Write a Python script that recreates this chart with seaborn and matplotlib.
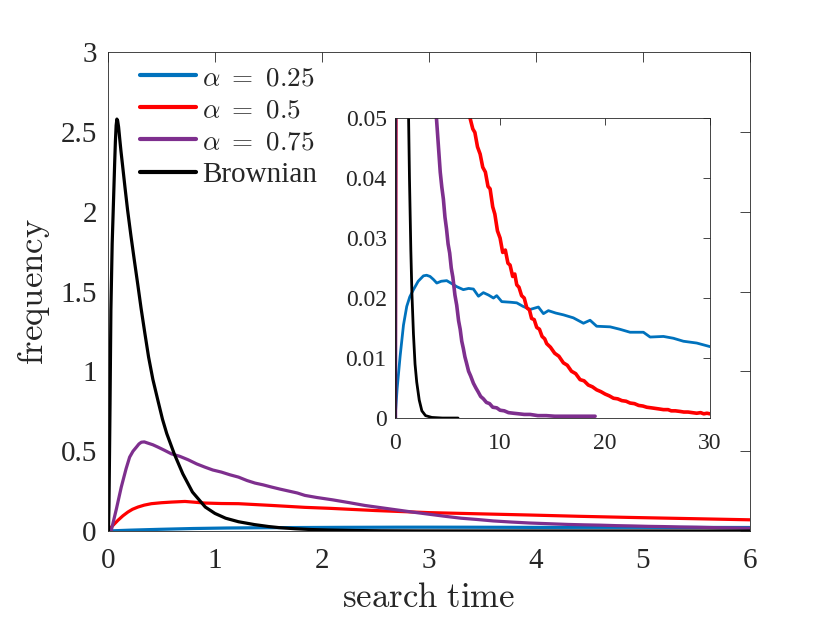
import numpy as np
import pandas as pd
import matplotlib
matplotlib.use('Agg')
import matplotlib.pyplot as plt
import seaborn as sns

# ── series (search time -> frequency)
t_brown = [0, 0.005, 0.01, 0.02, 0.028, 0.04, 0.053, 0.063, 0.07, 0.077, 0.084,
           0.091, 0.1, 0.11, 0.122, 0.137, 0.16, 0.184, 0.215, 0.246, 0.28, 0.31,
           0.345, 0.38, 0.42, 0.47, 0.51, 0.55, 0.62, 0.70, 0.79, 0.91, 1.0, 1.1,
           1.22, 1.37, 1.5, 1.6, 1.75, 1.9, 2.06, 2.3, 2.55, 2.9, 3.5, 4.5, 6.0]
f_brown = [0, 0.0, 0.15, 0.8, 1.385, 1.8, 2.08, 2.3, 2.44, 2.54, 2.58,
           2.57, 2.53, 2.46, 2.38, 2.29, 2.15, 2.01, 1.85, 1.70, 1.54, 1.395,
           1.24, 1.09, 0.95, 0.81, 0.70, 0.61, 0.483, 0.358, 0.244, 0.15, 0.11, 0.08,
           0.058, 0.04, 0.028, 0.021, 0.014, 0.009, 0.006, 0.003, 0.0012, 0.0004, 0.0001, 0.0, 0.0]

t_a075 = [0, 0.03, 0.08, 0.125, 0.17, 0.203, 0.235, 0.266, 0.29, 0.3125, 0.34,
          0.375, 0.42, 0.469, 0.53, 0.594, 0.67, 0.75, 0.83, 0.906, 0.98, 1.06,
          1.14, 1.22, 1.3, 1.375, 1.45, 1.53, 1.61, 1.69, 1.77, 1.84, 1.95, 2.1,
          2.25, 2.4, 2.55, 2.7, 2.85, 3.0, 3.15, 3.3, 3.45, 3.6, 3.77, 3.94, 4.1,
          4.3, 4.45, 4.6, 4.75, 4.9, 5.05, 5.2, 5.35, 5.5, 5.7, 5.87, 6.05, 6.2,
          6.35, 6.5, 6.65, 6.8, 7.0, 7.2, 7.46, 7.7, 7.9, 8.15, 8.41, 8.7, 9.0,
          9.3, 9.68, 10.0, 10.4, 10.8, 11.27, 11.8, 12.3, 12.86, 13.6, 14.4, 15.2,
          16.0, 17.5, 19.05]
f_a075 = [0, 0.0, 0.14, 0.275, 0.39, 0.4625, 0.5, 0.525, 0.545, 0.556, 0.558,
          0.55, 0.54, 0.525, 0.505, 0.483, 0.468, 0.446, 0.42, 0.4, 0.382, 0.369,
          0.352, 0.3375, 0.316, 0.3, 0.289, 0.275, 0.262, 0.25, 0.238, 0.223, 0.21, 0.195,
          0.178, 0.16, 0.146, 0.132, 0.118, 0.105, 0.092, 0.08, 0.072, 0.063, 0.056, 0.05, 0.046,
          0.041, 0.0385, 0.0365, 0.0335, 0.0315, 0.029, 0.0275, 0.025, 0.0235, 0.0205, 0.0188, 0.0162, 0.0148,
          0.0128, 0.0116, 0.0102, 0.0092, 0.0078, 0.0070, 0.0058, 0.0050, 0.0044, 0.0036, 0.0032, 0.0026, 0.0024,
          0.0018, 0.0017, 0.0013, 0.0012, 0.0009, 0.0008, 0.0007, 0.0006, 0.0006, 0.0004, 0.0004, 0.0003,
          0.0003, 0.0003, 0.0003]

t_a05 = [0, 0.04, 0.094, 0.14, 0.1875, 0.23, 0.281, 0.34, 0.406, 0.5, 0.594, 0.72,
         0.906, 1.06, 1.22, 1.53, 1.84, 2.07, 2.5, 3.0, 3.5, 3.94, 4.4, 4.87, 5.4,
         6.0, 6.6, 7.14, 7.4, 7.6, 7.85, 8.1, 8.35, 8.6, 8.85, 9.05, 9.3, 9.5, 9.75,
         10.0, 10.25, 10.5, 10.75, 10.95, 11.2, 11.4, 11.59, 11.8, 12.05, 12.3,
         12.54, 12.8, 13.0, 13.25, 13.49, 13.75, 14.0, 14.25, 14.44, 14.8, 15.2,
         15.6, 16.03, 16.4, 16.8, 17.2, 17.62, 18.0, 18.4, 18.8, 19.2, 19.6, 20.0,
         20.4, 20.8, 21.2, 21.6, 22.0, 22.38, 22.8, 23.2, 23.6, 23.97, 24.4, 24.8,
         25.2, 25.56, 26.0, 26.3, 26.7, 27.14, 27.5, 27.9, 28.3, 28.73, 29.1, 29.4,
         29.7, 30.0]
f_a05 = [0, 0.03, 0.067, 0.095, 0.119, 0.136, 0.15, 0.162, 0.171, 0.177, 0.181, 0.185,
         0.175, 0.172, 0.171, 0.16, 0.148, 0.142, 0.128, 0.115, 0.107, 0.1, 0.092, 0.085, 0.078,
         0.07, 0.06, 0.05, 0.0482, 0.0476, 0.0452, 0.0440, 0.0418, 0.0410, 0.0386, 0.0382, 0.0352, 0.0340, 0.0312,
         0.0300, 0.0276, 0.0280, 0.0258, 0.0255, 0.0236, 0.0240, 0.0222, 0.0218, 0.0204, 0.0200,
         0.0184, 0.0180, 0.0166, 0.0164, 0.0151, 0.0148, 0.0136, 0.0132, 0.0124, 0.0118, 0.0108,
         0.0103, 0.0092, 0.0088, 0.0078, 0.0074, 0.0064, 0.0062, 0.0055, 0.0052, 0.0047, 0.0044, 0.0040,
         0.0037, 0.0033, 0.0032, 0.0029, 0.0028, 0.0025, 0.0024, 0.0021, 0.0020, 0.0018, 0.0017, 0.0016,
         0.0015, 0.0014, 0.0014, 0.0012, 0.0012, 0.0011, 0.0010, 0.0010, 0.0009, 0.0008, 0.0009, 0.0007,
         0.0008, 0.0007]

t_a025 = [0, 0.2, 0.48, 0.8, 1.11, 1.4, 1.75, 2.2, 2.7, 3.0, 3.33, 3.65, 3.97, 4.4,
          4.92, 5.4, 5.87, 6.5, 7.0, 7.46, 7.94, 8.41, 8.9, 9.37, 9.68, 10.16, 11.0,
          11.59, 12.2, 12.86, 13.65, 14.13, 14.6, 15.3, 16.03, 16.98, 17.94, 18.57,
          19.2, 20.48, 21.4, 22.38, 23.65, 24.29, 25.56, 26.5, 27.46, 28.73, 30.0]
f_a025 = [0, 0.005, 0.0103, 0.0155, 0.0186, 0.0202, 0.0214, 0.0228, 0.0237, 0.0238, 0.0236, 0.0231,
          0.0225, 0.0228, 0.0229, 0.0224, 0.0219, 0.0214, 0.0216, 0.0215, 0.0203, 0.0209, 0.0205, 0.02,
          0.0204, 0.0194, 0.0193, 0.0192, 0.0186, 0.0181, 0.0185, 0.0174, 0.0179, 0.0175, 0.0172,
          0.0167, 0.0158, 0.0163, 0.0153, 0.0152, 0.0148, 0.0143, 0.0143, 0.0135, 0.0136, 0.0133,
          0.0128, 0.0125, 0.0119]

labels = [r'$\alpha\ =\ 0.25$', r'$\alpha\ =\ 0.5$', r'$\alpha\ =\ 0.75$', 'Brownian']
colors = ['#0072BD', '#FF0000', '#7E2F8E', '#000000']

main_xticks = [0, 1, 2, 3, 4, 5, 6]
main_yticks = [0, 0.5, 1, 1.5, 2, 2.5, 3]
main_yticklabels = ['0', '0.5', '1', '1.5', '2', '2.5', '3']
ins_xticks = [0, 10, 20, 30]
ins_yticks = [0, 0.01, 0.02, 0.03, 0.04, 0.05]
ins_yticklabels = ['0', '0.01', '0.02', '0.03', '0.04', '0.05']

series = [(t_a025, f_a025), (t_a05, f_a05), (t_a075, f_a075), (t_brown, f_brown)]

sns.set_style('white')
plt.rcParams['font.family'] = ['Liberation Serif', 'DejaVu Serif']
plt.rcParams['mathtext.fontset'] = 'cm'

axis_col = '#262626'

fig = plt.figure(figsize=(8.3, 6.23), dpi=100)
ax = fig.add_axes([0.130, 0.1477, 0.7736, 0.7688])

for (t, f), lab, c in zip(series, labels, colors):
    df = pd.DataFrame({'t': t, 'f': f})
    sns.lineplot(data=df, x='t', y='f', ax=ax, color=c, lw=2.3, label=lab,
                 estimator=None, sort=False)

ax.set_xlim(0, 6)
ax.set_ylim(0, 3)
ax.set_xticks(main_xticks)
ax.set_xticklabels([str(v) for v in main_xticks])
ax.set_yticks(main_yticks)
ax.set_yticklabels(main_yticklabels)
ax.tick_params(direction='in', length=7, width=0.6, top=True, right=True,
               labelsize=21, colors=axis_col)
ax.tick_params(axis='x', pad=12)
ax.tick_params(axis='y', pad=8)
for s in ax.spines.values():
    s.set_color(axis_col)
    s.set_linewidth(0.6)
ax.set_xlabel(r'$\mathrm{search\ time}$', fontsize=25, color=axis_col, labelpad=6)
ax.set_ylabel(r'$\mathrm{frequency}$', fontsize=25, color=axis_col, labelpad=6)

leg = ax.legend(loc='upper left', bbox_to_anchor=(0.022, 1.01), frameon=False,
                fontsize=21, handlelength=1.95, handletextpad=0.2,
                labelspacing=0.2, borderaxespad=0.2)
for line in leg.get_lines():
    line.set_linewidth(3)
for txt in leg.get_texts()[:3]:
    txt.set_fontsize(19.5)

# ── inset
ins = fig.add_axes([0.476, 0.329, 0.3795, 0.4815])
ins.set_facecolor('white')
for (t, f), c in zip(series, colors):
    df = pd.DataFrame({'t': t, 'f': f})
    lw = 2.6 if c in ('#FF0000', '#7E2F8E') else 2.0
    sns.lineplot(data=df, x='t', y='f', ax=ins, color=c, lw=lw,
                 estimator=None, sort=False, legend=False)
ins.set_xlim(0, 30)
ins.set_ylim(0, 0.05)
ins.set_xticks(ins_xticks)
ins.set_xticklabels([str(v) for v in ins_xticks])
ins.set_yticks(ins_yticks)
ins.set_yticklabels(ins_yticklabels)
ins.set_xlabel('')
ins.set_ylabel('')
ins.tick_params(direction='in', length=5, width=0.6, top=True, right=True,
                labelsize=17, colors=axis_col)
ins.tick_params(axis='x', pad=11)
ins.tick_params(axis='y', pad=6)
for s in ins.spines.values():
    s.set_color(axis_col)
    s.set_linewidth(0.6)

fig.savefig('out.png', dpi=100)
